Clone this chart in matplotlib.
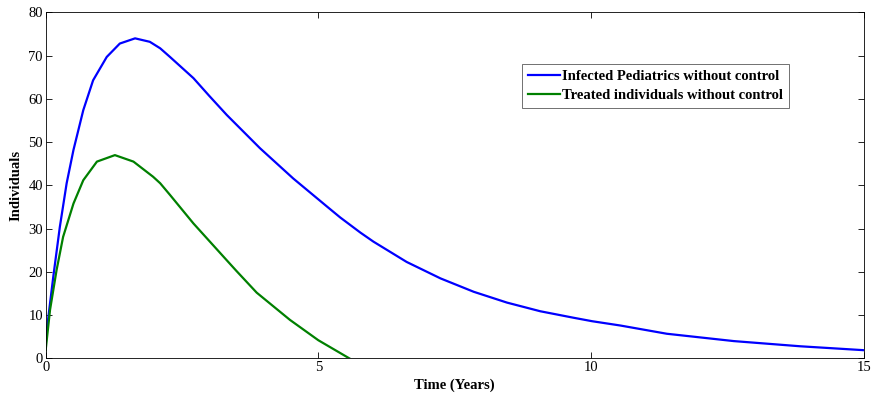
import numpy as np
import matplotlib.pyplot as plt

# values
t_infected = [0.0, 0.02, 0.14, 0.26, 0.385, 0.51, 0.69, 0.87, 1.12, 1.36, 1.64, 1.91, 2.10, 2.28, 2.71,
              3.0, 3.32, 3.93, 4.54, 5.16, 5.40, 5.77, 6.01, 6.62, 7.24, 7.85, 8.46, 9.07, 9.68, 10.02,
              10.54, 11.39, 12.62, 13.84, 15.0]
infected = [3.0, 6.5, 18.9, 30.4, 40.5, 48.2, 57.4, 64.3, 69.7, 72.8, 74.0, 73.2, 71.7, 69.7, 64.8,
            60.7, 56.3, 48.6, 41.6, 35.1, 32.6, 29.1, 27.0, 22.3, 18.5, 15.4, 12.9, 10.9, 9.4, 8.6,
            7.6, 5.7, 4.0, 2.8, 1.9]

t_treated = [0.0, 0.08, 0.2, 0.32, 0.51, 0.69, 0.94, 1.27, 1.61, 1.97, 2.10, 2.28, 2.71, 3.32, 3.5,
             3.87, 4.48, 5.0, 5.57]
treated = [1.9, 11.2, 20.4, 28.1, 35.8, 41.2, 45.5, 47.0, 45.5, 42.0, 40.5, 37.8, 31.2, 22.7, 20.2,
           15.2, 8.9, 4.2, 0.0]

plt.rcParams['font.family'] = ['Liberation Serif', 'DejaVu Serif']

fig = plt.figure(figsize=(8.73, 4.0), dpi=100)
ax = fig.add_axes([0.0523, 0.104, 0.937, 0.865])

ax.plot(t_infected, infected, color=(0, 0, 1), lw=1.6, label='Infected Pediatrics without control')
ax.plot(t_treated, treated, color=(0, 0.5, 0), lw=1.6, label='Treated individuals without control')

ax.set_xlim(0, 15)
ax.set_ylim(0, 80)
ax.set_xticks([0, 5, 10, 15])
ax.set_yticks(range(0, 81, 10))
ax.tick_params(direction='in', top=True, right=True, labelsize=10.5, length=4, width=0.6, pad=2)
for s in ax.spines.values():
    s.set_linewidth(0.6)

ax.set_xlabel('Time (Years)', fontweight='bold', fontsize=10.5, labelpad=3)
ax.set_ylabel('Individuals', fontweight='bold', fontsize=10.5, labelpad=4)

leg = ax.legend(loc='upper right', bbox_to_anchor=(0.909, 0.85), prop={'weight': 'bold', 'size': 10.5},
                fancybox=False, edgecolor='0.35', framealpha=1, handlelength=2.2, handletextpad=0.15,
                borderpad=0.4, labelspacing=0.4, borderaxespad=0)
leg.get_frame().set_linewidth(0.6)

fig.savefig('out.png', dpi=100)
